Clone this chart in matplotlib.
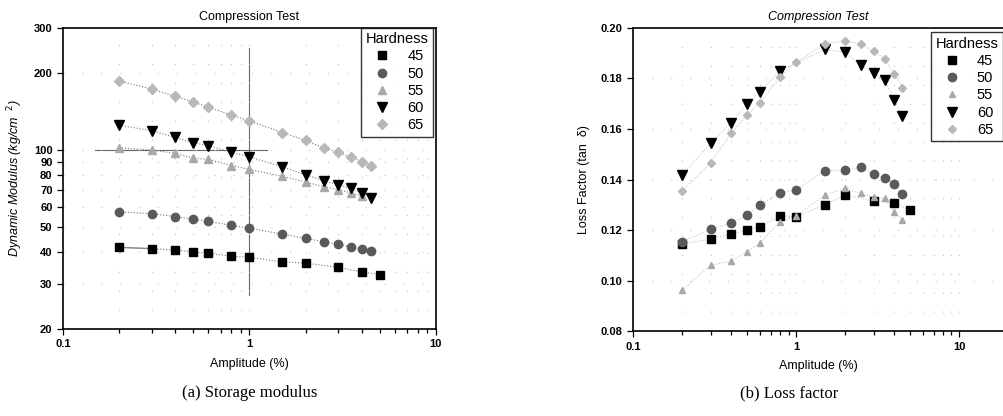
import matplotlib
matplotlib.use("Agg")
import matplotlib.pyplot as plt
from matplotlib.ticker import FixedLocator, FixedFormatter, NullLocator, FormatStrFormatter

plt.rcParams['font.family'] = ['Liberation Sans', 'DejaVu Sans']

hardness = ["45", "50", "55", "60", "65"]

# ---- (a) storage modulus ----
amp_a45 = [0.2, 0.3, 0.4, 0.5, 0.6, 0.8, 1, 1.5, 2, 3, 4, 5]
mod_45 = [41.7, 41.2, 40.7, 40.0, 39.5, 38.5, 38.1, 36.6, 36.2, 34.8, 33.5, 32.6]
amp_a50 = [0.2, 0.3, 0.4, 0.5, 0.6, 0.8, 1, 1.5, 2, 2.5, 3, 3.5, 4, 4.5]
mod_50 = [57.4, 56.4, 55.0, 53.6, 52.7, 50.8, 49.5, 47.0, 45.2, 43.9, 42.9, 41.9, 41.1, 40.2]
amp_a55 = [0.2, 0.3, 0.4, 0.5, 0.6, 0.8, 1, 1.5, 2, 2.5, 3, 3.5, 4]
mod_55 = [102, 100, 97, 93, 92, 87, 84, 79, 75, 72, 70, 68, 66]
amp_a60 = [0.2, 0.3, 0.4, 0.5, 0.6, 0.8, 1, 1.5, 2, 2.5, 3, 3.5, 4, 4.5]
mod_60 = [125, 119, 112, 107, 104, 98, 94, 86, 80, 76, 73, 71, 68, 65]
amp_a65 = [0.2, 0.3, 0.4, 0.5, 0.6, 0.8, 1, 1.5, 2, 2.5, 3, 3.5, 4, 4.5]
mod_65 = [186, 173, 162, 154, 147, 137, 130, 117, 109, 102, 98, 94, 90, 87]

# ---- (b) loss factor ----
amp_b45 = [0.2, 0.3, 0.4, 0.5, 0.6, 0.8, 1, 1.5, 2, 3, 4, 5]
tan_45 = [0.1145, 0.1164, 0.1183, 0.1199, 0.1213, 0.1257, 0.1253, 0.1299, 0.1339, 0.1315, 0.1308, 0.1278]
amp_b50 = [0.2, 0.3, 0.4, 0.5, 0.6, 0.8, 1, 1.5, 2, 2.5, 3, 3.5, 4, 4.5]
tan_50 = [0.1154, 0.1203, 0.1227, 0.1259, 0.1298, 0.1348, 0.1358, 0.1434, 0.1438, 0.1448, 0.1421, 0.1407, 0.1382, 0.1341]
amp_b55 = [0.2, 0.3, 0.4, 0.5, 0.6, 0.8, 1, 1.5, 2, 2.5, 3, 3.5, 4, 4.5]
tan_55 = [0.0962, 0.1061, 0.1077, 0.1114, 0.1150, 0.1233, 0.1255, 0.1339, 0.1365, 0.1345, 0.1329, 0.1325, 0.1272, 0.1240]
amp_b60 = [0.2, 0.3, 0.4, 0.5, 0.6, 0.8, 1.5, 2, 2.5, 3, 3.5, 4, 4.5]
tan_60 = [0.1418, 0.1543, 0.1625, 0.1699, 0.1746, 0.1831, 0.1915, 0.1903, 0.1852, 0.1820, 0.1794, 0.1715, 0.1651]
amp_b65 = [0.2, 0.3, 0.4, 0.5, 0.6, 0.8, 1, 1.5, 2, 2.5, 3, 3.5, 4, 4.5]
tan_65 = [0.1354, 0.1467, 0.1583, 0.1655, 0.1703, 0.1805, 0.1863, 0.1937, 0.1949, 0.1936, 0.1907, 0.1878, 0.1818, 0.1764]

mod_yticks = [20, 30, 40, 50, 60, 70, 80, 90, 100, 200, 300]
tan_yticks = [0.08, 0.10, 0.12, 0.14, 0.16, 0.18, 0.20]
x_ticks = [0.1, 1, 10]

styles = [
    dict(marker='s', color='black', ms=6),
    dict(marker='o', color='#5a5a5a', ms=6),
    dict(marker='^', color='#a8a8a8', ms=6),
    dict(marker='v', color='black', ms=7),
    dict(marker='D', color='#b8b8b8', ms=5),
]

fig = plt.figure(figsize=(10.04, 4.16), dpi=100)
axA = fig.add_axes([0.0627, 0.209, 0.3715, 0.724])
axB = fig.add_axes([0.6305, 0.204, 0.3695, 0.729])

def style_axis(ax):
    ax.set_xscale('log')
    for s in ax.spines.values():
        s.set_linewidth(1.2)
    ax.tick_params(axis='both', which='both', direction='out', labelsize=8, width=0.9)
    ax.tick_params(axis='both', which='major', length=4)
    ax.tick_params(axis='x', which='minor', length=3)
    ax.xaxis.set_major_locator(FixedLocator(x_ticks))
    ax.xaxis.set_major_formatter(FixedFormatter(['0.1', '1', '10']))
    ax.grid(True, which='both', axis='both', color='#c4c4c4', linestyle=(0, (1, 16)), linewidth=0.8)
    ax.set_xlabel('Amplitude (%)', fontsize=9, labelpad=6)

def legend(ax, **kw):
    leg = ax.legend(title='Hardness', fontsize=10.5, title_fontsize=10.5,
                    frameon=True, fancybox=False, edgecolor='black', borderpad=0.3,
                    labelspacing=0.22, handletextpad=0.9, borderaxespad=0.0,
                    handlelength=1.6, **kw)
    leg.get_frame().set_linewidth(1.0)
    return leg

# --- left panel ---
axA.set_yscale('log')
ampsA = [amp_a45, amp_a50, amp_a55, amp_a60, amp_a65]
modsA = [mod_45, mod_50, mod_55, mod_60, mod_65]
for h, xs, ys, st in zip(hardness, ampsA, modsA, styles):
    axA.plot(xs, ys, linestyle=':', color='#777777', linewidth=0.8, zorder=2)
    axA.plot(xs, ys, linestyle='none', marker=st['marker'], color=st['color'],
             markersize=st['ms'], markeredgecolor=st['color'], label=h, zorder=3)
axA.plot(amp_a45[:2], mod_45[:2], color='#888888', linewidth=1.0, zorder=2)
axA.axhline(100, xmin=0.086, xmax=0.547, color='#666666', linewidth=0.8, zorder=1)
axA.axvline(1, ymin=0.113, ymax=0.933, color='#666666', linewidth=0.8, zorder=1)
axA.set_xlim(0.1, 10)
axA.set_ylim(20, 300)
style_axis(axA)
axA.yaxis.set_major_locator(FixedLocator(mod_yticks))
axA.yaxis.set_major_formatter(FixedFormatter([str(v) for v in mod_yticks]))
axA.yaxis.set_minor_locator(NullLocator())
for lab in axA.get_xticklabels() + axA.get_yticklabels():
    lab.set_fontweight('bold')
axA.set_ylabel('Dynamic Modulus (kg/cm$^{\\ \\ 2}$)', fontsize=9, style='italic', labelpad=6)
axA.set_title('Compression Test', fontsize=9, pad=6)
legend(axA, loc='upper right', bbox_to_anchor=(0.992, 1.0))

# --- right panel ---
ampsB = [amp_b45, amp_b50, amp_b55, amp_b60, amp_b65]
tansB = [tan_45, tan_50, tan_55, tan_60, tan_65]
stylesB = [dict(s) for s in styles]
stylesB[2]['ms'] = 5
stylesB[4]['ms'] = 4.5
for h, xs, ys, st in zip(hardness, ampsB, tansB, stylesB):
    axB.plot(xs, ys, linestyle=':', color='#bbbbbb', linewidth=0.7, zorder=2)
    axB.plot(xs, ys, linestyle='none', marker=st['marker'], color=st['color'],
             markersize=st['ms'], markeredgecolor=st['color'], label=h, zorder=3)
axB.set_xlim(0.1, 18.9)
axB.set_ylim(0.08, 0.20)
style_axis(axB)
axB.spines['right'].set_visible(False)
axB.yaxis.set_major_locator(FixedLocator(tan_yticks))
axB.yaxis.set_major_formatter(FormatStrFormatter('%.2f'))
axB.yaxis.set_minor_locator(NullLocator())
for lab in axB.get_xticklabels() + axB.get_yticklabels():
    lab.set_fontweight('bold')
axB.set_ylabel('Loss Factor (tan  δ)', fontsize=9, labelpad=8)
axB.set_title('Compression Test', fontsize=9, style='italic', pad=6)
legend(axB, loc='upper left', bbox_to_anchor=(0.803, 0.985))

fig.text(0.249, 0.045, '(a) Storage modulus', fontsize=12, family='Liberation Serif', ha='center')
fig.text(0.786, 0.045, '(b) Loss factor', fontsize=12, family='Liberation Serif', ha='center')

fig.savefig('out.png', dpi=100)
